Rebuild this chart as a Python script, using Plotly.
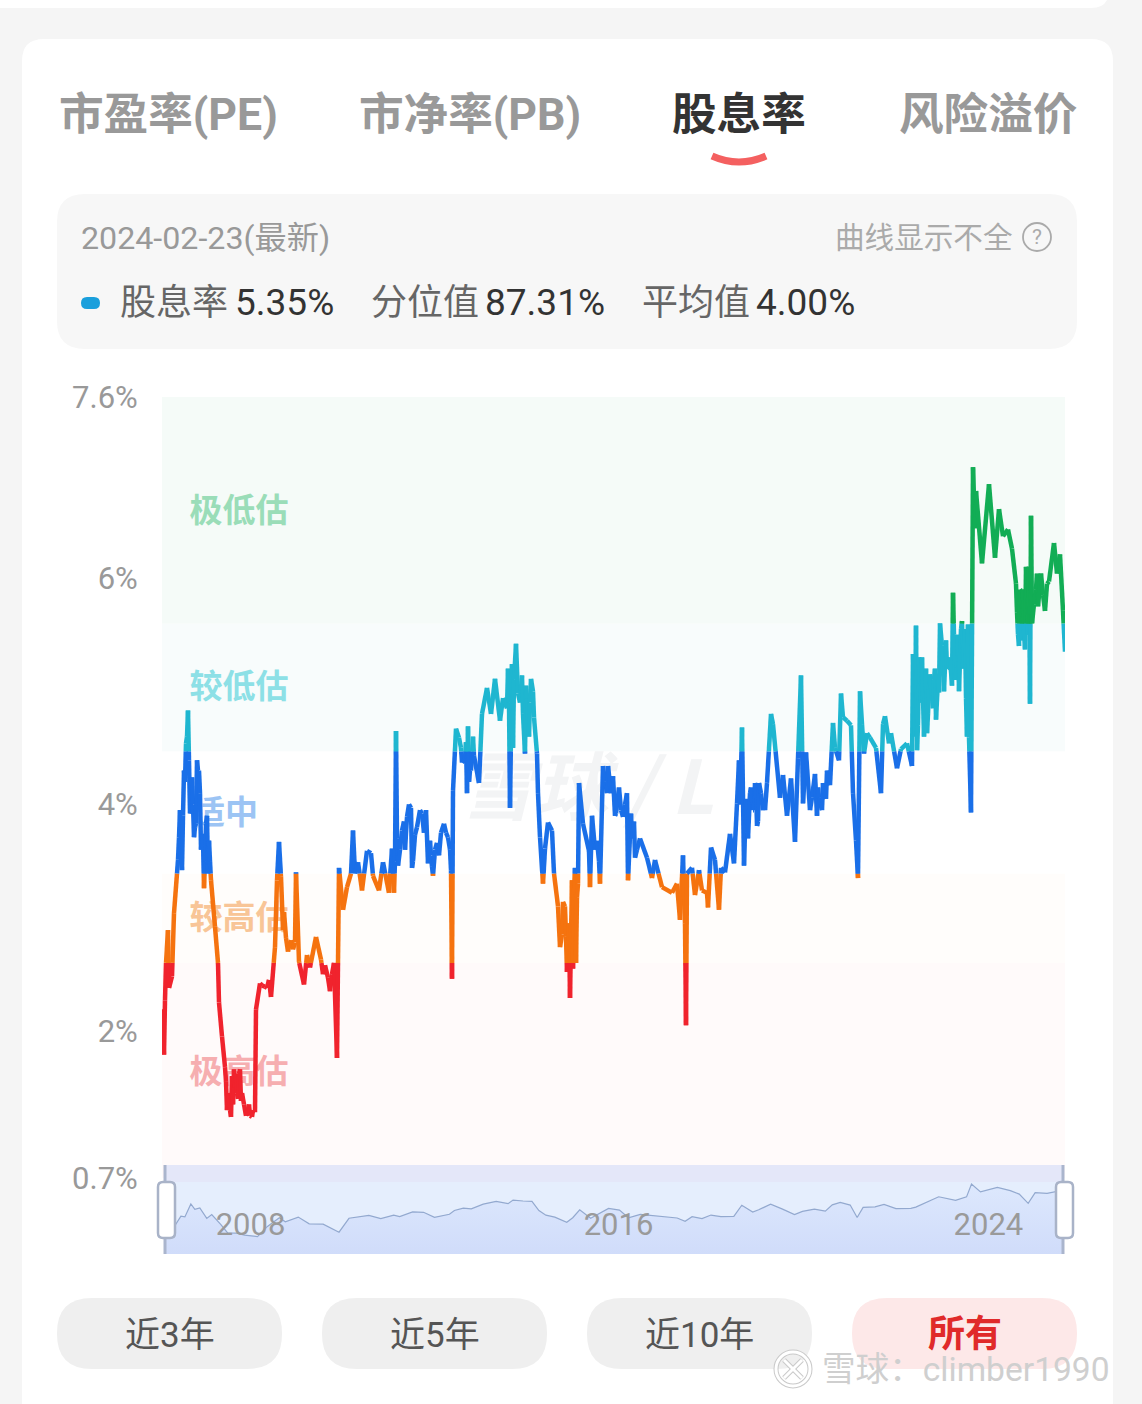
import plotly.graph_objects as go

W, H = 1142, 1404

# ---------- data ----------
sample_idx = [
    0, 2, 3, 4, 6, 7, 10, 12, 15, 16,
    17, 18, 20, 22, 24, 26, 27, 28, 30, 32,
    34, 35, 37, 40, 42, 44, 46, 47, 49, 53,
    56, 57, 60, 63, 66, 69, 72, 75, 78, 80,
    86, 90, 93, 94, 98, 103, 109, 113, 115, 117,
    119, 121, 126, 133, 134, 137, 142, 145, 148, 154,
    159, 166, 172, 175,
    177, 181, 185, 189, 191, 193, 196, 200, 205, 209,
    211, 217, 221, 227, 230, 232, 234, 236, 240, 245,
    249, 250, 253, 260, 266, 268, 271, 275, 282, 286,
    289, 290, 291, 294, 297, 300, 305, 306, 308, 312,
    317, 320, 325, 329, 333, 338, 341, 345, 346, 348,
    350, 354, 356, 360, 363, 365, 369, 372, 375, 376,
    378, 381, 383, 386, 390, 392, 398, 401, 404, 405,
    408, 410, 413, 415, 417, 421, 427, 428, 435, 441,
    446, 449, 454, 457, 461, 465, 466, 469, 473, 478,
    485, 490, 493, 500, 510, 515, 518, 521, 523, 524,
    525, 530, 533, 537, 540, 545, 546, 549, 553, 557,
    559, 563, 568, 572, 575, 577, 580, 582, 588, 591,
    593, 595, 597, 601, 605, 609, 611, 618, 621, 625,
    629, 633, 636, 639, 641, 644, 650, 653, 657, 661,
    664, 665, 668, 671, 673, 677, 679, 681, 685, 689,
    691, 694, 696, 698, 700, 702, 705, 708, 714, 719,
    721, 723, 727, 729, 735, 739, 745, 750, 751, 754,
    755, 758, 765, 767, 773, 777, 778, 786, 791, 795,
    800, 804, 806, 807, 809, 811, 813, 814, 820, 827,
    833, 837, 841, 846, 850, 854, 857, 859, 863, 865,
    868, 869, 872, 875, 879, 883, 887, 892, 895, 898,
    901, 903,
]
dividend_yield = [
    2.19, 1.79, 2.27, 2.60, 2.89, 2.38, 2.48, 3.04, 3.39, 3.51,
    3.71, 3.95, 3.42, 4.30, 4.54, 4.83, 4.39, 3.92, 4.24, 3.71,
    3.83, 4.39, 4.30, 3.74, 3.26, 3.83, 3.39, 3.68, 3.33, 2.92,
    2.60, 2.25, 1.95, 1.68, 1.45, 1.24, 1.66, 1.45, 1.66, 1.45,
    1.30, 1.24, 1.28, 2.19, 2.42, 2.39, 2.30, 2.74, 3.33, 3.67,
    3.36, 2.89, 2.70, 2.78, 3.40, 2.61, 2.41, 2.67, 2.56, 2.83,
    2.63, 2.47, 2.60, 1.76,
    3.44, 3.07, 3.27, 3.39, 3.77, 3.39, 3.49, 3.24, 3.59, 3.57,
    3.37, 3.24, 3.49, 3.22, 3.61, 3.22, 4.65, 3.46, 3.77, 3.89,
    3.97, 3.44, 3.73, 3.92, 3.48, 3.68, 3.37, 3.66, 3.83, 3.71,
    3.42, 2.46, 4.12, 4.67, 4.59, 4.37, 4.10, 4.69, 4.30, 4.43,
    4.19, 4.80, 5.03, 4.80, 5.11, 4.74, 4.94, 4.85, 5.20, 3.97,
    5.24, 5.42, 4.98, 5.14, 4.45, 4.94, 5.11, 4.77, 4.45, 4.10,
    3.71, 3.30, 3.61, 3.84, 3.77, 3.39, 2.74, 3.14, 2.83, 2.52,
    2.29, 3.33, 3.44, 3.18, 4.19, 3.83, 3.59, 3.27, 3.68, 4.34,
    4.34, 4.10, 3.92, 4.15, 3.89, 4.10, 3.33, 3.92, 3.53, 3.70,
    3.53, 3.35, 3.51, 3.27, 3.22, 3.30, 2.98, 3.55, 2.95, 2.05,
    3.39, 3.44, 3.20, 3.42, 3.24, 3.22, 3.09, 3.62, 3.51, 3.07,
    3.44, 3.40, 3.74, 3.48, 4.01, 4.39, 4.68, 3.46, 4.10, 3.95,
    4.19, 3.81, 4.19, 3.95, 4.19, 4.80, 4.71, 4.06, 4.26, 3.90,
    4.23, 3.67, 4.41, 5.14, 4.01, 4.46, 4.06, 4.27, 4.06, 4.19,
    4.05, 4.30, 4.17, 4.72, 4.50, 4.39, 4.98, 4.77, 4.74, 4.70,
    4.10, 3.68, 3.35, 5.00, 4.71, 4.45, 4.63, 4.59, 4.50, 4.10,
    4.71, 4.78, 4.54, 4.63, 4.32, 4.49, 4.54, 4.34, 5.33, 5.58,
    4.48, 5.07, 4.63, 5.02, 5.20, 4.99, 5.60, 5.21, 5.87, 5.21,
    5.62, 4.94, 5.59, 4.59, 3.93, 6.98, 6.44, 6.77, 6.13, 6.83,
    6.18, 6.61, 6.37, 6.43, 6.26, 5.95, 5.40, 5.89, 5.37, 5.95,
    4.89, 6.55, 5.77, 6.04, 6.04, 5.71, 5.97, 6.31, 6.04, 6.21,
    5.71, 5.35,
]
# finer readings where the curve is so busy that it looks like a solid ribbon
detail_idx = [
    19, 21, 23, 25, 29, 31, 33, 36, 38, 39, 41, 43, 45, 48,
    64, 65, 67, 68, 70, 71, 73, 74, 76, 77, 79, 82, 84, 87, 88, 91,
    100, 105, 107, 122, 124, 127, 129, 131, 161, 163, 168, 170,
    233, 235, 238, 242, 243, 247, 251, 255, 258, 262, 264, 269, 270, 273, 277, 279, 284, 288,
    299, 303, 304, 307, 309, 311,
    347, 351, 352, 358, 361, 364, 367, 368, 371,
    396, 400, 403, 407, 411, 412, 414, 416,
    430, 433, 437, 438, 443, 445, 451, 453, 459, 463, 470, 472, 475,
    578, 579, 583, 584, 586, 589, 592, 594, 596, 599, 602, 603,
    648, 655, 656, 660, 662, 667,
    752, 753, 756, 757, 759, 760, 762, 764, 766, 768, 771, 772, 774, 776, 780, 782, 784, 785,
    788, 790, 792, 793, 796, 797, 799, 801, 803, 805,
    855, 856, 858, 860, 861, 862, 864, 866, 867, 870, 874, 876, 881, 885,
]
detail_val = [
    3.55, 3.90, 4.20, 4.60, 3.95, 4.00, 3.80, 4.30, 4.10, 3.60, 3.70, 3.50, 3.90, 3.50,
    1.55, 1.30, 1.40, 1.30, 1.60, 1.35, 1.50, 1.62, 1.40, 1.62, 1.38, 1.35, 1.25, 1.35, 1.25, 1.30,
    2.40, 2.38, 2.45, 3.05, 2.82, 2.75, 2.80, 2.72, 2.50, 2.58, 2.35, 2.50,
    3.50, 3.70, 3.60, 3.85, 3.60, 4.00, 3.50, 3.80, 3.95, 3.75, 3.95, 3.55, 3.45, 3.60, 3.55, 3.75, 3.75, 3.60,
    4.50, 4.40, 4.55, 4.20, 4.30, 4.60,
    4.90, 4.50, 5.10, 4.90, 4.80, 5.05, 4.60, 4.90, 5.00,
    3.10, 2.85, 3.10, 2.95, 2.55, 3.20, 2.60, 3.30,
    3.90, 3.60, 3.50, 3.30, 4.20, 4.10, 4.25, 3.90, 3.95, 4.00, 3.70, 3.85, 3.60,
    4.00, 4.30, 3.75, 4.05, 3.70, 4.15, 3.95, 4.15, 3.85, 4.10, 4.05, 3.95,
    3.95, 3.90, 4.15, 3.95, 4.10, 4.20,
    5.00, 4.60, 4.70, 5.30, 4.90, 5.30, 4.60, 5.20, 4.80, 5.15, 4.85, 5.10, 4.75, 5.10, 5.40, 5.00, 5.45, 5.20,
    5.30, 5.05, 5.50, 5.10, 5.50, 5.00, 5.55, 5.20, 5.55, 4.60,
    5.70, 5.50, 5.90, 5.45, 5.90, 5.55, 6.10, 5.50, 6.10, 5.60, 5.90, 5.75, 5.85, 5.95,
]

band_names = ["极高估", "较高估", "适中", "较低估", "极低估"]
band_limits = [0.7, 2.6, 3.39, 4.47, 5.6, 7.6]
band_colors = ["#f0232d", "#f5730f", "#1a6fe8", "#1fb6d0", "#12ad55"]
band_fills = ["#fffafa", "#fffdfb", "#ffffff", "#f8fcfc", "#f5fbf8"]
band_text_colors = ["#f6aeb0", "#f8c597", "#9cc4f4", "#8de0e6", "#9addb8"]
band_label_idx = [77, 77, 63, 77, 77]
band_label_val = [1.61, 2.97, 3.90, 5.01, 6.57]

y_ticks = [0.7, 2, 4, 6, 7.6]
y_labels = ["0.7%", "2%", "4%", "6%", "7.6%"]
slider_tick_idx = [86, 456, 828]
slider_tick_labels = ["2008", "2016", "2024"]
nav_floor = -0.6

tabs = ["市盈率(PE)", "市净率(PB)", "股息率", "风险溢价"]
buttons = ["近3年", "近5年", "近10年", "所有"]

assert len(sample_idx) == len(dividend_yield)
assert len(detail_idx) == len(detail_val)

# ---------- helpers ----------
def px(x):
    return x / W

def py(y):
    return 1 - y / H

def rrect(x0, y0, x1, y1, r):
    a, b, c, d = px(x0), py(y0), px(x1), py(y1)
    rx, ry = r / W, r / H
    return (f"M{a+rx},{b} L{c-rx},{b} Q{c},{b} {c},{b-ry} L{c},{d+ry} Q{c},{d} {c-rx},{d} "
            f"L{a+rx},{d} Q{a},{d} {a},{d+ry} L{a},{b-ry} Q{a},{b} {a+rx},{b} Z")

def box(x0, y0, x1, y1, r, fill, line=None, width=0, layer="below"):
    return dict(type="path", path=rrect(x0, y0, x1, y1, r), xref="paper", yref="paper",
                fillcolor=fill, line=dict(color=line or fill, width=width), layer=layer)

def text(x, y, s, size, color, anchor="left", bold=False, family=None, **kw):
    f = dict(size=size, color=color, family=family or "Roboto, 'Noto Sans CJK SC'")
    if bold:
        f["weight"] = 700
    return dict(x=px(x), y=py(y), xref="paper", yref="paper", text=s, showarrow=False,
                xanchor=anchor, yanchor="middle", font=f, **kw)

merged = sorted(zip(sample_idx + detail_idx, dividend_yield + detail_val), key=lambda p: p[0])
xs = [p[0] for p in merged]
ys = [p[1] for p in merged]

# split the line at the band limits so that each part takes the band's colour
seg_x = [[] for _ in band_colors]
seg_y = [[] for _ in band_colors]

def band_of(v):
    for i in range(len(band_colors)):
        if v <= band_limits[i + 1]:
            return i
    return len(band_colors) - 1

for i in range(len(xs) - 1):
    x0, y0, x1, y1 = xs[i], ys[i], xs[i + 1], ys[i + 1]
    cuts = [l for l in band_limits[1:-1] if min(y0, y1) < l < max(y0, y1)]
    cuts.sort(reverse=y0 > y1)
    pts = [(x0, y0)] + [(x0 + (l - y0) / (y1 - y0) * (x1 - x0), l) for l in cuts] + [(x1, y1)]
    for (a, b), (c, d) in zip(pts, pts[1:]):
        k = band_of((b + d) / 2)
        seg_x[k] += [a, c, None]
        seg_y[k] += [b, d, None]

fig = go.Figure()

# faint watermark and band names lie under the line
fig.add_trace(go.Scatter(x=[425], y=[4.08], mode="text", text=["雪球 / L"], cliponaxis=False,
                         textfont=dict(size=74, color="#f3f4f5", family="'Noto Sans CJK SC'",
                                       weight=700, style="italic"),
                         hoverinfo="skip", showlegend=False))
fig.add_trace(go.Scatter(x=band_label_idx, y=band_label_val, mode="text", text=band_names,
                         textfont=dict(size=33, color=band_text_colors, family="'Noto Sans CJK SC'",
                                       weight=700),
                         hoverinfo="skip", showlegend=False))
for k, c in enumerate(band_colors):
    fig.add_trace(go.Scatter(x=seg_x[k], y=seg_y[k], mode="lines", name=band_names[k],
                             line=dict(color=c, width=4.5), connectgaps=False,
                             hoverinfo="skip", showlegend=False))

# navigator
nav_x = sample_idx[::3] + sample_idx[-1:]
nav_y = dividend_yield[::3] + dividend_yield[-1:]
fig.add_trace(go.Scatter(x=[nav_x[0], nav_x[-1]], y=[nav_floor, nav_floor], mode="lines",
                         xaxis="x2", yaxis="y2", line=dict(width=0),
                         hoverinfo="skip", showlegend=False))
fig.add_trace(go.Scatter(x=nav_x, y=nav_y, mode="lines", xaxis="x2", yaxis="y2",
                         line=dict(color="#93a9cf", width=1.2), fill="tonexty",
                         fillgradient=dict(type="vertical",
                                           colorscale=[[0, "#d0dcfa"], [1, "#dde8fd"]]),
                         hoverinfo="skip", showlegend=False))

shapes = [
    # page cards
    box(-40, -40, 1109, 8, 18, "#ffffff"),
    box(22, 39, 1113, 1460, 22, "#ffffff"),
    box(57, 194, 1077, 349, 28, "#f7f7f7"),
]
# coloured bands in data coordinates
for i, c in enumerate(band_fills):
    shapes.append(dict(type="rect", xref="x", yref="y", layer="below", x0=0, x1=903,
                       y0=band_limits[i], y1=band_limits[i + 1], fillcolor=c, line=dict(width=0)))
shapes += [
    # active tab mark
    dict(type="path", xref="paper", yref="paper", layer="below",
         path=f"M{px(712)},{py(156)} Q{px(739)},{py(168)} {px(766)},{py(156)}",
         line=dict(color="#f46060", width=7)),
    # legend pill
    box(81, 297, 100, 309, 6, "#1a9fdc"),
    # help mark
    dict(type="circle", xref="paper", yref="paper", layer="below",
         x0=px(1023), x1=px(1051), y0=py(251), y1=py(223), line=dict(color="#aaaaaa", width=1.8)),
    # buttons
    box(57, 1298, 282, 1369, 35, "#efefef"),
    box(322, 1298, 547, 1369, 35, "#efefef"),
    box(587, 1298, 812, 1369, 35, "#efefef"),
    box(852, 1298, 1077, 1369, 35, "#fde8e8"),
    # navigator backdrop: the top strip covers the foot of the bands
    dict(type="rect", xref="paper", yref="paper", layer="above", x0=px(165), x1=px(1063),
         y0=py(1182), y1=py(1165), fillcolor="#e4e7f9", line=dict(width=0)),
    dict(type="rect", xref="paper", yref="paper", layer="below", x0=px(165), x1=px(1063),
         y0=py(1254), y1=py(1182), fillcolor="#e5eefd", line=dict(width=0)),
    # navigator handles
    dict(type="line", xref="paper", yref="paper", x0=px(165), x1=px(165), y0=py(1165), y1=py(1254),
         line=dict(color="#aab5cd", width=3)),
    dict(type="line", xref="paper", yref="paper", x0=px(1063), x1=px(1063), y0=py(1165), y1=py(1254),
         line=dict(color="#aab5cd", width=3)),
    box(158, 1182, 175, 1238, 5, "#ffffff", "#a9b3c8", 2.5, "above"),
    box(1056, 1182, 1073, 1238, 5, "#ffffff", "#a9b3c8", 2.5, "above"),
]
# corner mark: a grey edge with a white stroke on top
for col, wid in (("#c9c9c9", 5), ("#ffffff", 3)):
    shapes += [
        dict(type="circle", xref="paper", yref="paper", layer="above",
             x0=px(776), x1=px(810), y0=py(1386), y1=py(1352), line=dict(color=col, width=wid)),
        dict(type="line", xref="paper", yref="paper", layer="above",
             x0=px(784), x1=px(802), y0=py(1360), y1=py(1378), line=dict(color=col, width=wid)),
        dict(type="line", xref="paper", yref="paper", layer="above",
             x0=px(784), x1=px(802), y0=py(1378), y1=py(1360), line=dict(color=col, width=wid)),
    ]

tab_x = [168, 470, 739, 988]
ann = [text(tab_x[i], 115, t, 44.6, "#333333" if i == 2 else "#999999", "center", True)
       for i, t in enumerate(tabs)]
ann += [
    text(79, 238, "2024-02-23(最新)", 32.2, "#999999"),
    text(1015, 238, "曲线显示不全", 29.6, "#aaaaaa", "right"),
    text(1037, 237, "?", 21, "#aaaaaa", "center"),
    text(118, 303, "股息率", 36, "#666666"),
    text(232.5, 302, "5.35%", 37, "#333333"),
    text(369, 303, "分位值", 36, "#666666"),
    text(482.5, 302, "87.31%", 37, "#333333"),
    text(640, 303, "平均值", 36, "#666666"),
    text(753.5, 302, "4.00%", 37, "#333333"),
]
btn_x = [169.5, 434.5, 699.5]
ann += [text(btn_x[i], 1335, b, 35, "#555555", "center") for i, b in enumerate(buttons[:3])]
ann.append(text(964.5, 1334, buttons[3], 37, "#e02a2a", "center", True))
ann.append(text(820, 1369, "雪球：climber1990", 33.6, "#cfcfcf"))

fig.update_layout(
    width=W, height=H, autosize=False,
    margin=dict(l=0, r=0, t=0, b=0),
    paper_bgcolor="#f5f5f5", plot_bgcolor="rgba(0,0,0,0)",
    shapes=shapes, annotations=ann,
    xaxis=dict(domain=[px(162), px(1065)], range=[0, 903], visible=False, fixedrange=True, automargin=False),
    yaxis=dict(domain=[py(1178), py(397)], range=[0.7, 7.6], tickvals=y_ticks, ticktext=y_labels,
               ticks="outside", ticklen=17, tickcolor="rgba(0,0,0,0)", showgrid=False, zeroline=False,
               showline=False, automargin=False,
               tickfont=dict(size=31, color="#999999", family="Roboto"), fixedrange=True),
    xaxis2=dict(domain=[px(165), px(1063)], range=[0, 903], anchor="free", position=py(1203),
                tickvals=slider_tick_idx, ticktext=slider_tick_labels, showgrid=False, zeroline=False,
                showline=False, ticks="", tickangle=0, automargin=False,
                tickfont=dict(size=31, color="#9a9a9a", family="Roboto"), fixedrange=True),
    yaxis2=dict(domain=[py(1254), py(1182)], range=[nav_floor, 7.2], anchor="x2", visible=False,
                fixedrange=True, automargin=False),
)

fig.write_html("out.html", config={"displayModeBar": False},
               post_script="document.body.style.margin='0';")
